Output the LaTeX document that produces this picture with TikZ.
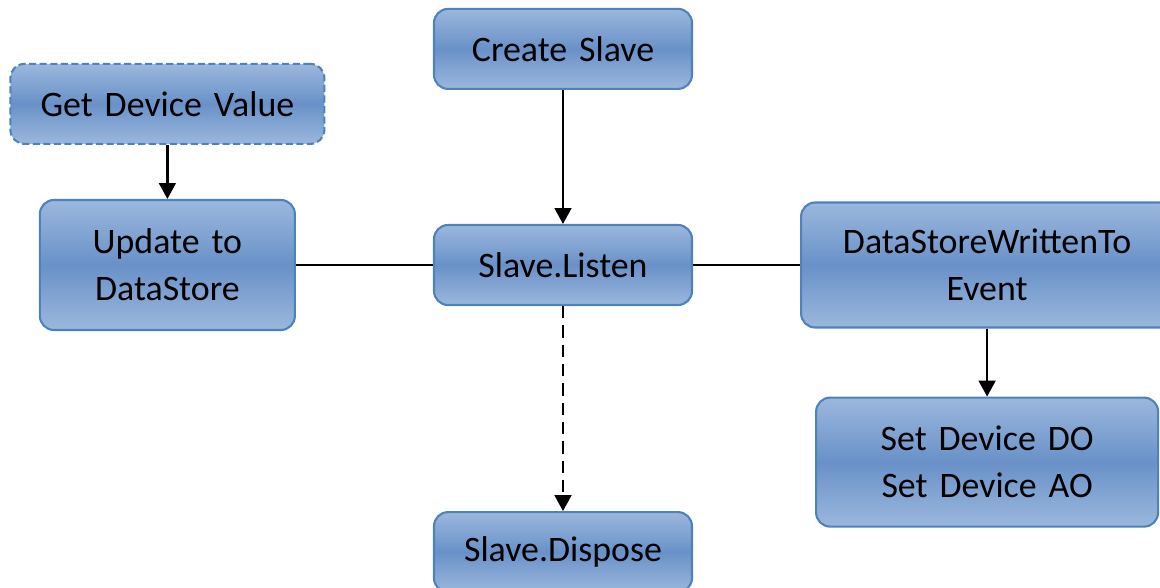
\documentclass[tikz,border=0pt]{standalone}
\usepackage{fontspec}
\setmainfont{Carlito}
\usepackage{xcolor}
\usepackage{tikz}
\usetikzlibrary{shapes.geometric, arrows.meta, positioning}

\definecolor{boxedge}{HTML}{4F81BD}
\definecolor{boxlight}{HTML}{9BB8DD}
\definecolor{boxmid}{HTML}{6991C8}

\begin{document}
\begin{tikzpicture}
\tikzstyle{block} = [rectangle, draw=boxedge, line width=1.2pt, top color=boxlight, bottom color=boxlight, middle color=boxmid, text width=4.8cm, align=center, minimum height=1.6cm, minimum width=5.16cm, rounded corners=8pt, font=\fontsize{20.4}{26.6}\selectfont, inner sep=0pt]
\tikzstyle{link} = [line width=1.3pt, black]
\tikzstyle{flow} = [link, -{Triangle[width=9.5pt,length=9pt]}]

\useasboundingbox (0,0) rectangle (23.2,-11.74);

\node (listen) [block] at (11.26,-5.3) {Slave.Listen};
\node (create) [block, above=2.68cm of listen] {Create Slave};
\node (dispose) [block, below=4.1cm of listen] {Slave.Dispose};
\node (update) [block, minimum width=5.1cm, minimum height=2.6cm, left=2.74cm of listen] {Update to\\DataStore};
\node (getvalue) [block, minimum width=6.28cm, text width=6cm, dash pattern=on 4pt off 2pt, above=1.08cm of update] {Get Device Value};
\node (written) [block, minimum width=7.44cm, text width=7cm, minimum height=2.5cm, right=2.14cm of listen] {DataStoreWrittenTo\\Event};
\node (setdev) [block, minimum width=6.84cm, text width=6.5cm, minimum height=2.58cm, below=1.36cm of written] {Set Device DO\\Set Device AO};

\draw [flow] (create) -- (listen);
\draw [flow] (getvalue) -- (update);
\draw [link] (update) -- (listen);
\draw [link] (listen) -- (written);
\draw [flow, dash pattern=on 7pt off 4pt] (listen) -- (dispose);
\draw [flow] (written) -- (setdev);

\end{tikzpicture}
\end{document}
